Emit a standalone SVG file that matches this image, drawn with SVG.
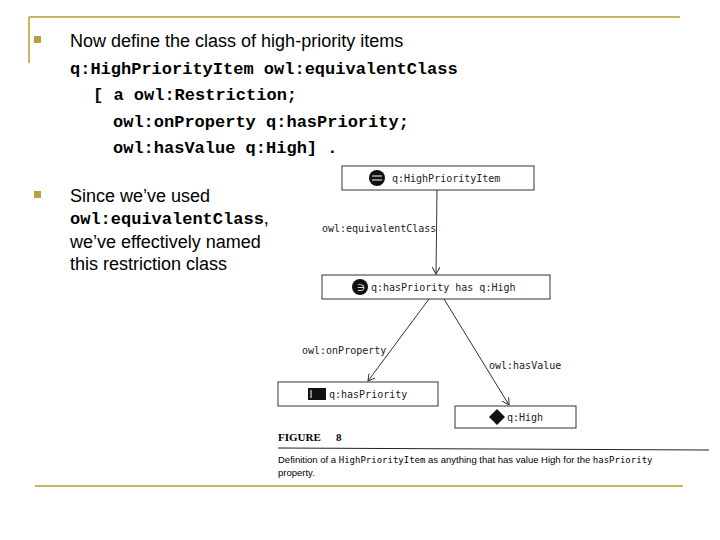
<svg xmlns="http://www.w3.org/2000/svg" width="720" height="540" viewBox="0 0 720 540">
<style>
.t{font-family:"Liberation Sans",Arial,sans-serif;font-size:18px;fill:#000}
.c{font-family:"Liberation Mono","Courier New",monospace;font-size:17px;font-weight:bold;fill:#000}
.m{font-family:"DejaVu Sans Mono",monospace;font-size:10px;fill:#222}
.box{fill:#fff;stroke:#333;stroke-width:1}
.e{stroke:#333;stroke-width:1;fill:none}
.b{fill:#b8a040}
</style>
<defs><marker id="a" markerWidth="8" markerHeight="8" refX="7" refY="4" orient="auto"><path d="M0,0 L7,4 L0,8" fill="none" stroke="#333"/></marker></defs>
<rect x="0" y="0" width="720" height="540" fill="#fff"/>
<g id="frame" stroke="#c8b560" stroke-width="2">
<line x1="29" y1="17" x2="680" y2="17"/><line x1="29" y1="17" x2="29" y2="63"/>
<line x1="35" y1="486" x2="683" y2="486"/>
</g>
<g id="text">
<rect class="b" x="34" y="36" width="7" height="7"/>
<text class="t" x="70" y="47">Now define the class of high-priority items</text>
<text class="c" x="70" y="74">q:HighPriorityItem owl:equivalentClass</text>
<text class="c" x="93" y="100">[ a owl:Restriction;</text>
<text class="c" x="113" y="127">owl:onProperty q:hasPriority;</text>
<text class="c" x="113" y="153">owl:hasValue q:High] .</text>
<rect class="b" x="34" y="191" width="7" height="7"/>
<text class="t" x="70" y="202">Since we’ve used</text>
<text x="70" y="224"><tspan class="c">owl:equivalentClass</tspan><tspan class="t">,</tspan></text>
<text class="t" x="70" y="248">we’ve effectively named</text>
<text class="t" x="70" y="270">this restriction class</text>
</g>
<g id="connectors">
<line class="e" x1="437" y1="190" x2="436" y2="274" marker-end="url(#a)"/>
<line class="e" x1="429" y1="299" x2="368" y2="381" marker-end="url(#a)"/>
<line class="e" x1="444" y1="299" x2="509" y2="405" marker-end="url(#a)"/>
<text class="m" x="322" y="232">owl:equivalentClass</text>
<text class="m" x="302" y="354">owl:onProperty</text>
<text class="m" x="489" y="369">owl:hasValue</text>
</g>
<g id="n1"><rect class="box" x="342" y="166" width="192" height="24"/><circle cx="377" cy="178" r="8" fill="#111"/><line x1="372" y1="176" x2="382" y2="176" stroke="#fff"/><line x1="372" y1="180" x2="382" y2="180" stroke="#fff"/><text class="m" x="392" y="182">q:HighPriorityItem</text></g>
<g id="n2"><rect class="box" x="322" y="275" width="228" height="24"/><circle cx="360" cy="287" r="8" fill="#111"/><text x="357" y="291" font-family="DejaVu Sans" font-size="9" fill="#fff">∋</text><text class="m" x="371" y="291">q:hasPriority has q:High</text></g>
<g id="n3"><rect class="box" x="278" y="382" width="160" height="24"/><rect x="308" y="388" width="18" height="12" fill="#111"/><line x1="311" y1="390" x2="311" y2="398" stroke="#fff"/><text class="m" x="329" y="398">q:hasPriority</text></g>
<g id="n4"><rect class="box" x="455" y="406" width="121" height="22"/><path d="M497,409 L505,417 L497,425 L489,417Z" fill="#111"/><text class="m" x="507" y="421">q:High</text></g>
<g id="caption">
<text x="278" y="441" font-family="Liberation Serif,serif" font-size="11" font-weight="bold">FIGURE</text>
<text x="336" y="441" font-family="Liberation Serif,serif" font-size="11" font-weight="bold">8</text>
<line x1="278" y1="448" x2="709" y2="450" stroke="#222"/>
<text x="278" y="463" font-family="Liberation Sans,sans-serif" font-size="9.5">Definition of a <tspan font-family="DejaVu Sans Mono,monospace" font-size="9">HighPriorityItem</tspan> as anything that has value High for the <tspan font-family="DejaVu Sans Mono,monospace" font-size="9">hasPriority</tspan></text>
<text x="278" y="476" font-family="Liberation Sans,sans-serif" font-size="9.5">property.</text>
</g>
</svg>
